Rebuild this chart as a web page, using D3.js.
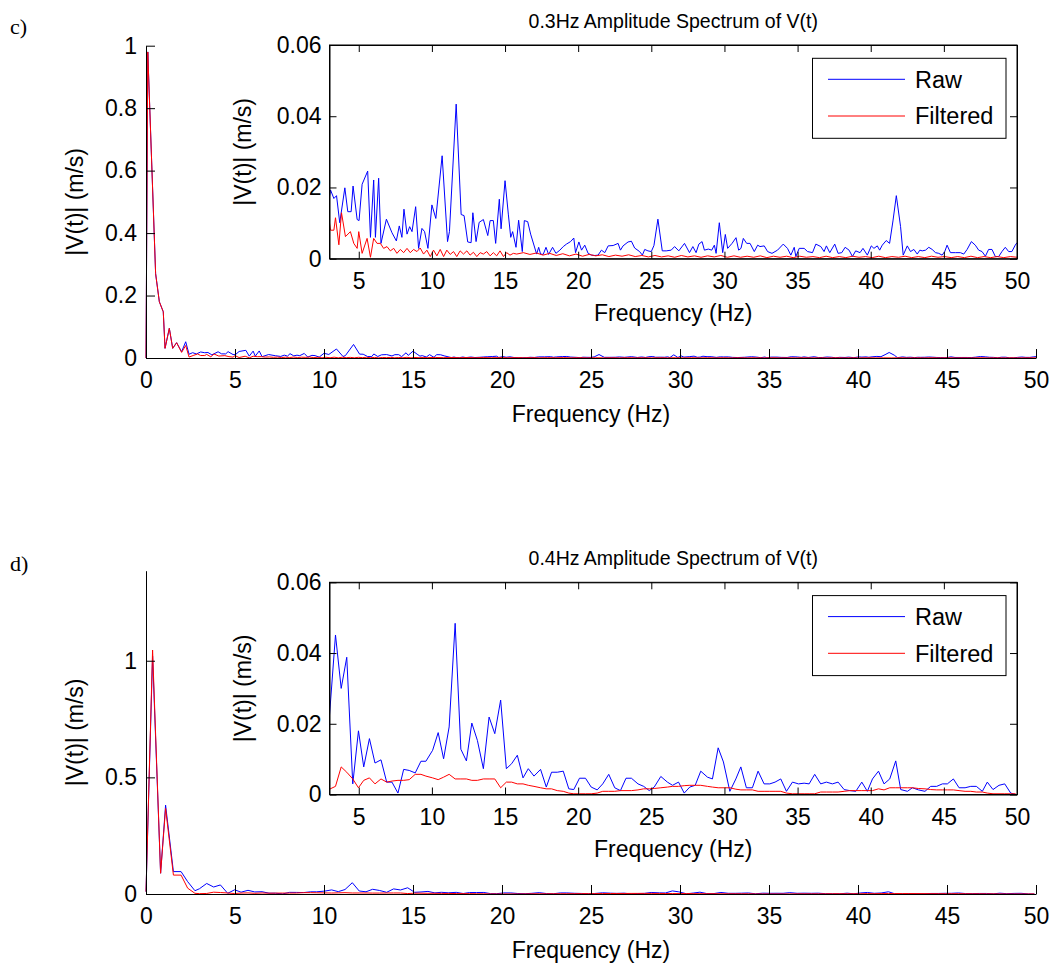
<!DOCTYPE html>
<html><head><meta charset="utf-8">
<script src="https://cdn.jsdelivr.net/npm/d3@7"></script>
<style>body{margin:0;background:#fff}</style>
</head><body>
<script>
// ---------- DATA ----------
const mainXTicks = [0,5,10,15,20,25,30,35,40,45,50];
const insetXTicks = [5,10,15,20,25,30,35,40,45,50];
const insetYTicks = [0,0.02,0.04,0.06];
const cYTicks = [0,0.2,0.4,0.6,0.8,1];
const dYTicks = [0,0.5,1];
const titles = ["0.3Hz Amplitude Spectrum of V(t)", "0.4Hz Amplitude Spectrum of V(t)"];
const panelTags = ["c)", "d)"];
const legendLabels = ["Raw", "Filtered"];

const cRaw = [[0,0],[0.1,0.98],[0.54,0.27],[0.75,0.18],[0.97,0.148],[1.07,0.031],[1.31,0.095],[1.5,0.031],[1.72,0.049],[2.0,0.02],[2.23,0.052],[2.42,0.012],[2.62,0.017],[2.83,0.013],
[3.07,0.0193],[3.30,0.0169],[3.48,0.0177],[3.70,0.0101],[4.05,0.0199],[4.25,0.0132],[4.48,0.0132],[4.61,0.0204],[4.89,0.0110],[5.02,0.0107],[5.23,0.0209],[5.61,0.0246],[5.80,0.0060],[6.02,0.0221],[6.14,0.0060],[6.36,0.0226],[6.52,0.0043],[6.89,0.0111],[7.27,0.0073],[7.57,0.0050],[7.77,0.0092],[7.95,0.0060],[8.09,0.0139],[8.30,0.0069],[8.48,0.0090],[8.64,0.0076],[8.89,0.0146],[9.09,0.0029],[9.32,0.0085],[9.50,0.0076],[9.73,0.0029],[10.0,0.0151],[10.27,0.0113],[10.70,0.0289],[11.07,0.0048],[11.20,0.0076],[11.66,0.0434],[12.0,0.0124],[12.2,0.0121],[12.45,0.0047],[12.68,0.0045],[12.80,0.0129],[13.02,0.0048],[13.23,0.0102],[13.52,0.0110],[13.82,0.0065],[13.98,0.0107],[14.20,0.0107],[14.36,0.0043],[14.61,0.0167],[14.73,0.0084],[15.0,0.0219],[15.23,0.0123],[15.39,0.0060],[15.52,0.0076],[15.75,0.0032],[15.93,0.0108],[16.18,0.0020],[16.32,0.0107],[16.55,0.0104],[16.75,0.0069],[17.16,0.0013],[17.30,0.0032],[17.43,0.0013],[17.61,0.0012],[17.80,0.0032],[17.98,0.0012],[18.25,0.0032],[18.48,0.0015],[18.75,0.0024],[18.98,0.0034],[19.20,0.0041],[19.48,0.0048],[19.70,0.0058],[19.82,0.0017],[20.05,0.0047],[20.23,0.0024],[20.45,0.0038],[20.68,0.0015],[20.91,0.0010],[21.14,0.0009],[21.36,0.0010],[21.59,0.0024],[21.82,0.0017],[22.05,0.0036],[22.39,0.0037],[22.73,0.0043],[22.89,0.0024],[23.07,0.0036],[23.41,0.0047],[23.64,0.0049],[23.86,0.0030],[24.20,0.0020],[24.39,0.0010],[24.55,0.0026],[24.77,0.0022],[25.0,0.0020],[25.18,0.0037],[25.45,0.0111],[25.75,0.0022],[26.02,0.0022],[26.36,0.0024],[26.59,0.0034],[26.88,0.0022],[27.27,0.0043],[27.61,0.0017],[27.84,0.0034],[28.06,0.0017],[28.25,0.0041],[28.47,0.0048],[28.63,0.0024],[28.90,0.0027],[29.13,0.0024],[29.31,0.0038],[29.43,0.0015],[29.65,0.0101],[29.88,0.0017],[30.06,0.0068],[30.22,0.0029],[30.52,0.0043],[30.79,0.0059],[30.97,0.0024],[31.13,0.0029],[31.29,0.0057],[31.52,0.0043],[31.75,0.0043],[32.04,0.0020],[32.27,0.0038],[32.43,0.0034],[32.72,0.0036],[32.95,0.0020],[33.25,0.0015],[33.63,0.0024],[34.02,0.0041],[34.31,0.0029],[34.54,0.0010],[34.77,0.0032],[34.88,0.0006],[35.11,0.0029],[35.45,0.0029],[35.68,0.0020],[36.02,0.0017],[36.25,0.0041],[36.59,0.0034],[36.81,0.0020],[36.97,0.0036],[37.20,0.0017],[37.54,0.0041],[37.77,0.0015],[38.02,0.0017],[38.25,0.0032],[38.52,0.0024],[38.75,0.0006],[38.97,0.0022],[39.27,0.0017],[39.47,0.0029],[39.77,0.0010],[40.04,0.0036],[40.22,0.0029],[40.45,0.0036],[40.61,0.0024],[40.79,0.0038],[41.06,0.0051],[41.29,0.0043],[41.52,0.0106],[41.75,0.0177],[42.04,0.0090],[42.22,0.0010],[42.50,0.0036],[42.72,0.0020],[42.95,0.0026],[43.18,0.0013],[43.36,0.0024],[43.52,0.0022],[43.75,0.0024],[43.97,0.0032],[44.20,0.0026],[44.43,0.0017],[44.65,0.0015],[44.88,0.0010],[45.06,0.0020],[45.22,0.0038],[45.45,0.0017],[45.79,0.0017],[46.13,0.0017],[46.36,0.0013],[46.59,0.0026],[46.88,0.0048],[47.15,0.0038],[47.38,0.0024],[47.61,0.0020],[47.84,0.0007],[48.06,0.0026],[48.29,0.0026],[48.52,0.0006],[48.75,0.0006],[48.97,0.0020],[49.20,0.0032],[49.43,0.0020],[49.65,0.0020],[49.88,0.0038],[50.0,0.0045]];

const cFilt = [[0,0],[0.1,0.98],[0.54,0.27],[0.75,0.18],[0.97,0.148],[1.07,0.031],[1.31,0.095],[1.5,0.031],[1.72,0.049],[2.0,0.018],[2.23,0.04],[2.42,0.003],[2.65,0.008],[2.9,0.013],
[3.07,0.0080],[3.30,0.0080],[3.41,0.0115],[3.64,0.0039],[3.82,0.0129],[4.09,0.0062],[4.43,0.0076],[4.66,0.0043],[4.89,0.0029],[5.0,0.0076],[5.23,0.0015],[5.57,0.0057],[5.80,0.0004],[6.02,0.0057],[6.25,0.0043],[6.48,0.0043],[6.70,0.0029],[6.93,0.0034],[7.16,0.0022],[7.39,0.0029],[7.61,0.0015],[7.84,0.0026],[8.07,0.0017],[8.30,0.0029],[8.52,0.0017],[8.75,0.0026],[8.98,0.0020],[9.20,0.0030],[9.43,0.0013],[9.66,0.0024],[9.89,0.0006],[10.11,0.0024],[10.34,0.0008],[10.57,0.0026],[10.80,0.0006],[11.02,0.0024],[11.25,0.0012],[11.48,0.0020],[11.70,0.0006],[11.93,0.0022],[12.16,0.0013],[12.39,0.0022],[12.61,0.0010],[12.84,0.0018],[13.07,0.0006],[13.30,0.0017],[13.52,0.0013],[13.75,0.0020],[13.98,0.0008],[14.20,0.0017],[14.43,0.0008],[14.66,0.0022],[14.89,0.0006],[15.11,0.0017],[15.34,0.0010],[15.57,0.0015],
[15.8,0.0013],[16.25,0.0017],[16.7,0.0012],[17.15,0.0016],[17.6,0.0010],[18.05,0.0015],[18.5,0.0009],[18.95,0.0014],[19.4,0.0008],[19.85,0.0013],[20.3,0.0007],[20.75,0.0012],[21.2,0.0008],[21.65,0.0011],[22.1,0.0006],[22.55,0.0010],[23.0,0.0007],[23.45,0.0011],[23.9,0.0006],[24.35,0.0009],[24.8,0.0005],[25.25,0.0009],[25.7,0.0005],[26.15,0.0008],[26.6,0.0004],[27.05,0.0009],[27.5,0.0005],[27.95,0.0008],[28.4,0.0004],[28.85,0.0008],[29.3,0.0005],[29.75,0.0009],[30.2,0.0004],[30.65,0.0008],[31.1,0.0004],[31.55,0.0007],[32.0,0.0004],[32.45,0.0008],[32.9,0.0003],[33.35,0.0007],[33.8,0.0004],[34.25,0.0007],[34.7,0.0003],[35.15,0.0007],[35.6,0.0004],[36.05,0.0006],[36.5,0.0003],[36.95,0.0007],[37.4,0.0003],[37.85,0.0006],[38.3,0.0003],[38.75,0.0007],[39.2,0.0004],[39.65,0.0006],[40.1,0.0003],[40.55,0.0007],[41.0,0.0003],[41.45,0.0006],[41.9,0.0004],[42.35,0.0007],[42.8,0.0003],[43.25,0.0006],[43.7,0.0003],[44.15,0.0007],[44.6,0.0004],[45.05,0.0006],[45.5,0.0003],[45.95,0.0006],[46.4,0.0003],[46.85,0.0007],[47.3,0.0003],[47.75,0.0006],[48.2,0.0003],[48.65,0.0006],[49.1,0.0003],[49.55,0.0006],[50.0,0.0004]];

const dRaw = [[0,0.01],[0.37,1.02],[0.82,0.089],[1.10,0.381],[1.54,0.096],[1.97,0.096],[2.34,0.053],[2.75,0.014],[3.0,0.0224],[3.41,0.0451],[3.80,0.0300],[4.18,0.0388],[4.59,0.0030],[4.98,0.0180],[5.34,0.0078],[5.73,0.0158],[6.11,0.0089],[6.52,0.0098],[6.91,0.0035],[7.27,0.0035],[7.68,0.0004],[8.07,0.0071],[8.45,0.0068],[8.86,0.0061],[9.25,0.0094],[9.59,0.0094],[10.05,0.0125],[10.43,0.0175],[10.80,0.0101],[11.18,0.0191],[11.59,0.0484],[11.98,0.0128],[12.36,0.0095],[12.73,0.0202],[13.11,0.0153],[13.52,0.0073],[13.91,0.0219],[14.30,0.0172],[14.70,0.0267],[15.09,0.0073],[15.45,0.0087],[15.84,0.0111],[16.23,0.0047],[16.59,0.0073],[16.98,0.0052],[17.43,0.0071],[17.82,0.0021],[18.18,0.0063],[18.57,0.0063],[18.98,0.0066],[19.36,0.0016],[19.70,0.0014],[20.09,0.0046],[20.50,0.0046],[20.89,0.0021],[21.30,0.0013],[21.68,0.0030],[22.09,0.0057],[22.50,0.0019],[22.89,0.0011],[23.27,0.0046],[23.64,0.0046],[24.09,0.0030],[24.48,0.0023],[24.86,0.0011],[25.2,0.0021],[25.65,0.0051],[26.1,0.0035],[26.45,0.0026],[26.86,0.0035],[27.25,0.0004],[27.63,0.0021],[28.0,0.0026],[28.38,0.0066],[28.84,0.0049],[29.18,0.0044],[29.57,0.0132],[29.93,0.0092],[30.37,0.0009],[30.78,0.0044],[31.12,0.0078],[31.5,0.0019],[31.91,0.0019],[32.3,0.0066],[32.71,0.0030],[33.1,0.0030],[33.46,0.0035],[33.85,0.0044],[34.24,0.0009],[34.65,0.0035],[35.06,0.0030],[35.45,0.0032],[35.79,0.0030],[36.17,0.0057],[36.58,0.0030],[36.97,0.0035],[37.38,0.0030],[37.77,0.0035],[38.18,0.0014],[38.57,0.0011],[38.98,0.0009],[39.39,0.0035],[39.77,0.0009],[40.12,0.0044],[40.53,0.0066],[40.91,0.0030],[41.3,0.0044],[41.71,0.0095],[42.05,0.0014],[42.51,0.0009],[42.85,0.0019],[43.26,0.0013],[43.71,0.0009],[44.1,0.0023],[44.51,0.0023],[44.9,0.0030],[45.24,0.0030],[45.65,0.0044],[46.04,0.0019],[46.45,0.0019],[46.84,0.0023],[47.22,0.0023],[47.63,0.0009],[47.97,0.0035],[48.36,0.0014],[48.77,0.0026],[49.16,0.0030],[49.57,0.0004],[49.91,0.0000]];

const dFilt = [[0,0.01],[0.37,1.046],[0.82,0.089],[1.10,0.367],[1.54,0.081],[1.97,0.081],[2.34,0.025],[2.75,0.003],[3.0,0.0015],[3.41,0.0023],[3.80,0.0078],[4.18,0.0063],[4.59,0.0044],[4.98,0.0019],[5.34,0.0040],[5.73,0.0047],[6.11,0.0030],[6.52,0.0044],[6.91,0.0035],[7.27,0.0038],[7.68,0.0040],[8.07,0.0040],[8.45,0.0042],[8.86,0.0057],[9.25,0.0057],[9.59,0.0052],[10.05,0.0047],[10.43,0.0042],[10.80,0.0049],[11.18,0.0057],[11.59,0.0044],[11.98,0.0044],[12.36,0.0044],[12.73,0.0040],[13.11,0.0040],[13.52,0.0044],[13.91,0.0044],[14.30,0.0044],[14.70,0.0019],[15.09,0.0035],[15.45,0.0035],[15.84,0.0030],[16.23,0.0030],[16.59,0.0026],[16.98,0.0023],[17.43,0.0019],[17.82,0.0016],[18.18,0.0016],[18.57,0.0011],[18.98,0.0009],[19.36,0.0004],[19.70,0.0002],[20.09,0.0002],[20.50,0.0002],[20.89,0.0002],[21.30,0.0004],[21.68,0.0009],[22.09,0.0009],[22.50,0.0009],[22.89,0.0011],[23.27,0.0011],[23.64,0.0011],[24.09,0.0013],[24.48,0.0016],[24.86,0.0016],[25.2,0.0017],[25.65,0.0019],[26.1,0.0021],[26.45,0.0023],[26.86,0.0023],[27.25,0.0025],[27.63,0.0026],[28.0,0.0026],[28.38,0.0026],[28.84,0.0023],[29.18,0.0021],[29.57,0.0019],[30.0,0.0019],[30.37,0.0019],[30.78,0.0015],[31.12,0.0013],[31.5,0.0013],[31.91,0.0013],[32.3,0.0009],[32.71,0.0009],[33.1,0.0009],[33.46,0.0009],[33.85,0.0009],[34.24,0.0004],[34.65,0.0002],[35.06,0.0002],[35.45,0.0002],[35.79,0.0002],[36.17,0.0002],[36.58,0.0007],[36.97,0.0007],[37.38,0.0007],[37.77,0.0007],[38.18,0.0009],[38.57,0.0011],[38.98,0.0011],[39.39,0.0011],[39.77,0.0011],[40.12,0.0011],[40.53,0.0016],[40.91,0.0013],[41.3,0.0019],[41.71,0.0019],[42.05,0.0019],[42.51,0.0019],[42.85,0.0019],[43.26,0.0017],[43.71,0.0016],[44.1,0.0014],[44.51,0.0013],[44.9,0.0013],[45.24,0.0013],[45.65,0.0013],[46.04,0.0011],[46.45,0.0009],[46.84,0.0009],[47.22,0.0007],[47.63,0.0007],[47.97,0.0004],[48.36,0.0002],[48.77,0.0002],[49.16,0.0002],[49.57,0.0002],[49.91,0.0002]];

// ---------- DRAW ----------
const FONT = 'Arial, "Liberation Sans", Helvetica, sans-serif';
const BLUE = '#0000ff', RED = '#ff0000';
const svg = d3.select('body').append('svg').attr('width',1052).attr('height',965);

function styleAxis(sel, fs){
  sel.attr('font-family', FONT).attr('font-size', fs);
  sel.selectAll('path,line').attr('stroke','#000').attr('stroke-width',1);
  sel.selectAll('text').attr('fill','#000');
}

function drawPanel(P, idx){
  const g = svg.append('g');
  const x = d3.scaleLinear().domain([0,50]).range([146,1036]);
  const y = d3.scaleLinear().domain([0,P.yMax]).range([P.mainBottom,P.mainTop]);
  const line = d3.line().x(d=>x(d[0])).y(d=>y(d[1]));
  g.append('path').datum(P.raw).attr('d',line).attr('fill','none').attr('stroke',BLUE).attr('stroke-width',1);
  g.append('path').datum(P.filt).attr('d',line).attr('fill','none').attr('stroke',RED).attr('stroke-width',1);

  const ax = g.append('g').attr('transform',`translate(0,${P.mainBottom})`)
    .call(d3.axisBottom(x).tickValues(mainXTicks).tickFormat(d=>String(d)).tickSizeInner(-9).tickSizeOuter(0).tickPadding(14));
  styleAxis(ax, 23);
  const ay = g.append('g').attr('transform','translate(146,0)')
    .call(d3.axisLeft(y).tickValues(P.yTicks).tickFormat(d=>String(d)).tickSizeInner(-9).tickSizeOuter(0).tickPadding(9));
  styleAxis(ay, 23);

  g.append('text').attr('x',591).attr('y',P.mainXLabelY).attr('text-anchor','middle')
    .attr('font-family',FONT).attr('font-size',23).text('Frequency (Hz)');
  g.append('text').attr('transform',`translate(83,${(P.mainTop+P.mainBottom)/2}) rotate(-90)`).attr('text-anchor','middle')
    .attr('font-family',FONT).attr('font-size',23).text('|V(t)| (m/s)');
  g.append('text').attr('x',10).attr('y',P.tagY).attr('font-family','"Liberation Serif","Times New Roman",serif')
    .attr('font-size',22).text(panelTags[idx]);

  // ---- inset ----
  const L=329.5, R=1017;
  const xi = d3.scaleLinear().domain([3,50]).range([L,R]);
  const yi = d3.scaleLinear().domain([0,0.06]).range([P.inBottom,P.inTop]);
  const gi = svg.append('g');
  gi.append('rect').attr('x',L).attr('y',P.inTop).attr('width',R-L).attr('height',P.inBottom-P.inTop).attr('fill','#fff');
  const cid = 'clip'+idx;
  svg.append('defs').append('clipPath').attr('id',cid).append('rect')
    .attr('x',L).attr('y',P.inTop).attr('width',R-L).attr('height',P.inBottom-P.inTop);
  const li = d3.line().x(d=>xi(d[0])).y(d=>yi(d[1]));
  const gl = gi.append('g').attr('clip-path',`url(#${cid})`);
  gl.append('path').datum(P.raw).attr('d',li).attr('fill','none').attr('stroke',BLUE).attr('stroke-width',1);
  gl.append('path').datum(P.filt).attr('d',li).attr('fill','none').attr('stroke',RED).attr('stroke-width',1);

  const bx = gi.append('g').attr('transform',`translate(0,${P.inBottom})`)
    .call(d3.axisBottom(xi).tickValues(insetXTicks).tickFormat(d=>String(d)).tickSizeInner(-7).tickSizeOuter(0).tickPadding(14));
  styleAxis(bx, 23);
  const tx = gi.append('g').attr('transform',`translate(0,${P.inTop})`)
    .call(d3.axisTop(xi).tickValues(insetXTicks).tickFormat('').tickSizeInner(-7).tickSizeOuter(0));
  styleAxis(tx, 23);
  const ly = gi.append('g').attr('transform',`translate(${L},0)`)
    .call(d3.axisLeft(yi).tickValues(insetYTicks).tickFormat(d=>String(d)).tickSizeInner(-7).tickSizeOuter(0).tickPadding(8));
  styleAxis(ly, 23);
  const ry = gi.append('g').attr('transform',`translate(${R},0)`)
    .call(d3.axisRight(yi).tickValues(insetYTicks).tickFormat('').tickSizeInner(-7).tickSizeOuter(0));
  styleAxis(ry, 23);
  gi.append('rect').attr('x',L).attr('y',P.inTop).attr('width',R-L).attr('height',P.inBottom-P.inTop)
    .attr('fill','none').attr('stroke','#000').attr('stroke-width',1);

  gi.append('text').attr('x',(L+R)/2).attr('y',P.inBottom+62.5).attr('text-anchor','middle')
    .attr('font-family',FONT).attr('font-size',23).text('Frequency (Hz)');
  gi.append('text').attr('transform',`translate(251,${(P.inTop+P.inBottom)/2}) rotate(-90)`).attr('text-anchor','middle')
    .attr('font-family',FONT).attr('font-size',23).text('|V(t)| (m/s)');
  gi.append('text').attr('x',(L+R)/2).attr('y',P.inTop-17).attr('text-anchor','middle')
    .attr('font-family',FONT).attr('font-size',19.5).text(titles[idx]);

  // legend
  const lg = gi.append('g').attr('transform',`translate(812.5,${P.inTop+13.3})`);
  lg.append('rect').attr('width',193.5).attr('height',80).attr('fill','#fff').attr('stroke','#000').attr('stroke-width',1);
  [BLUE,RED].forEach((c,i)=>{
    const yy = 21 + i*36.7;
    lg.append('line').attr('x1',15.5).attr('x2',92.5).attr('y1',yy).attr('y2',yy).attr('stroke',c).attr('stroke-width',1);
    lg.append('text').attr('x',102.5).attr('y',yy).attr('dy','0.36em').attr('font-family',FONT).attr('font-size',23.5).text(legendLabels[i]);
  });
}

drawPanel({raw:cRaw, filt:cFilt, yMax:1, yTicks:cYTicks, mainTop:45.7, mainBottom:358, mainXLabelY:422,
  tagY:34, inTop:45, inBottom:258.7}, 0);
drawPanel({raw:dRaw, filt:dFilt, yMax:1.386, yTicks:dYTicks, mainTop:570.7, mainBottom:894, mainXLabelY:958,
  tagY:570.5, inTop:582.3, inBottom:794.5}, 1);
</script>
</body></html>
